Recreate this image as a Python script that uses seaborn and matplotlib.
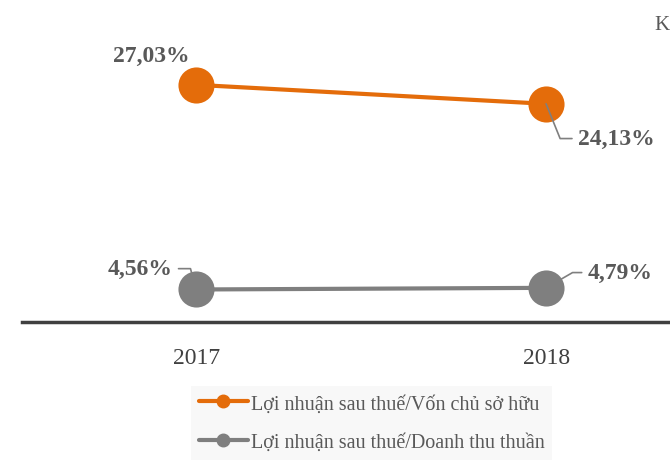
import pandas as pd
import matplotlib
matplotlib.use('Agg')
import matplotlib.pyplot as plt
import seaborn as sns

# data
years = ['2017', '2018']
roe = [27.03, 24.13]          # Lợi nhuận sau thuế/Vốn chủ sở hữu (secondary axis)
ros = [4.56, 4.79]            # Lợi nhuận sau thuế/Doanh thu thuần (primary axis)
series_names = ['Lợi nhuận sau thuế/Vốn chủ sở hữu',
                'Lợi nhuận sau thuế/Doanh thu thuần']
colors = ['#E46C0A', '#7F7F7F']

df_roe = pd.DataFrame({'x': [0, 1], 'year': years, 'value': roe})
df_ros = pd.DataFrame({'x': [0, 1], 'year': years, 'value': ros})

sns.set_theme(style='white')
plt.rcParams['font.family'] = ['Liberation Serif', 'DejaVu Serif']

fig = plt.figure(figsize=(6.7, 4.64), dpi=100)
ax = fig.add_axes([0.033, 0.304, 0.967, 0.675])
ax2 = ax.twinx()

sns.lineplot(data=df_ros, x='x', y='value', color=colors[1],
             marker='o', markersize=26, linewidth=3, markeredgewidth=0, ax=ax)
sns.lineplot(data=df_roe, x='x', y='value', color=colors[0],
             marker='o', markersize=26, linewidth=3, markeredgewidth=0, ax=ax2)

ax.set_xlim(-0.497, 1.354)
ax.set_ylim(0, 44)
ax2.set_ylim(-9.15, 38.64)
ax.set_xticks([0, 1])
ax.set_xticklabels(years, fontsize=17, color='#404040')
ax.tick_params(axis='x', length=0, pad=18)
for a in (ax, ax2):
    a.set_yticks([])
    a.set_xlabel('')
    a.set_ylabel('')
    for s in ['top', 'right', 'left', 'bottom']:
        a.spines[s].set_visible(False)
ax.spines['bottom'].set_visible(True)
ax.spines['bottom'].set_color('#404040')
ax.spines['bottom'].set_linewidth(2.5)

def pct(v):
    return f'{v:.2f}%'.replace('.', ',')

lab = dict(fontsize=17, fontweight='bold', color='#595959')
lead = dict(arrowstyle='-', color='#7F7F7F', lw=1.2, shrinkA=2, shrinkB=0)

# 27,03% above-left, no leader
ax2.annotate(pct(roe[0]), xy=(0, roe[0]), xytext=(-60, 21), textcoords='offset points',
             ha='left', va='center', **lab)
# 24,13% below-right with leader
ax2.annotate(pct(roe[1]), xy=(1, roe[1]), xytext=(23, -25), textcoords='offset points',
             ha='left', va='center',
             arrowprops=dict(connectionstyle='angle,angleA=0,angleB=-68,rad=0', **lead), **lab)
# 4,56% left with leader
ax.annotate(pct(ros[0]), xy=(0, ros[0]), xytext=(-17, 15), textcoords='offset points',
            ha='right', va='center',
            arrowprops=dict(connectionstyle='angle,angleA=0,angleB=105,rad=0', **lead), **lab)
# 4,79% right with leader
ax.annotate(pct(ros[1]), xy=(1, ros[1]), xytext=(30, 11), textcoords='offset points',
            ha='left', va='center',
            arrowprops=dict(connectionstyle='angle,angleA=0,angleB=30,rad=0', **lead), **lab)

# title fragment at top right
fig.text(0.976, 0.945, 'K', fontsize=15, color='#595959', ha='left', va='center')

handles = [plt.Line2D([], [], color=c, lw=3, marker='o', markersize=9) for c in colors]
leg = fig.legend(handles, series_names, loc='center', bbox_to_anchor=(0.555, 0.086),
                 frameon=True, fontsize=14.5, handlelength=2.4, handletextpad=0.15,
                 labelspacing=0.95, borderpad=0.4)
leg.get_frame().set_facecolor('#F7F7F7')
leg.get_frame().set_edgecolor('none')
leg.get_frame().set_boxstyle('square', pad=0)
for t in leg.get_texts():
    t.set_color('#595959')

fig.savefig('out.png', dpi=100)
